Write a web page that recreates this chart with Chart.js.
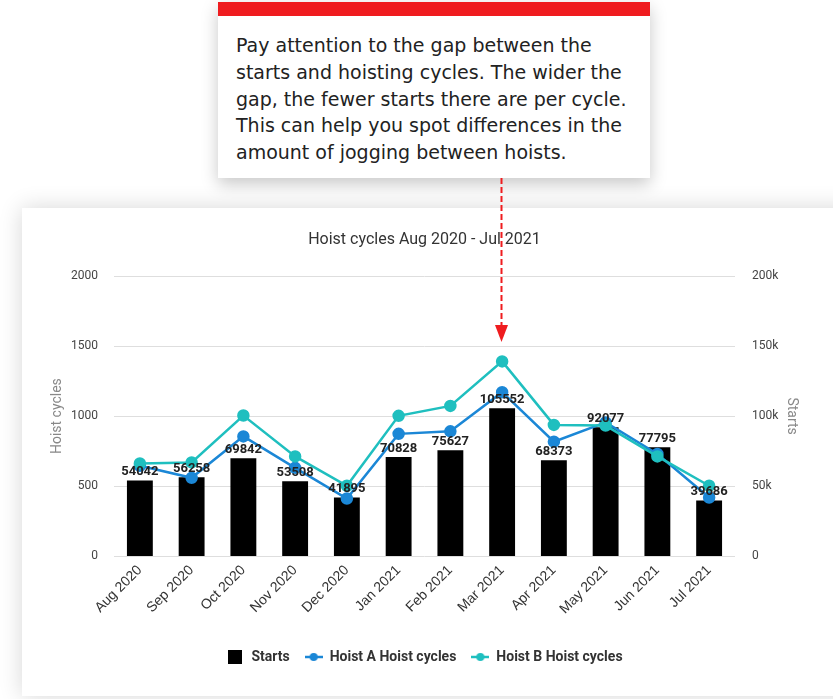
<!DOCTYPE html>
<html>
<head>
<meta charset="utf-8">
<title>Hoist cycles</title>
<script src="https://cdn.jsdelivr.net/npm/chart.js@4.4.1/dist/chart.umd.min.js"></script>
<style>
    html, body {
        margin: 0;
        padding: 0;
        background: #fff;
        width: 833px;
        height: 699px;
        overflow: hidden;
    }
    .panel {
        position: absolute;
        left: 22px;
        top: 208px;
        width: 840px;
        height: 488px;
        background: #fff;
        box-shadow: 0 0 22px rgba(0, 0, 0, 0.16);
    }
    .panel canvas {
        position: absolute;
        left: 0;
        top: 0;
    }
    .note {
        position: absolute;
        left: 218px;
        top: 2px;
        width: 432px;
        height: 162px;
        box-sizing: content-box;
        background: #fff;
        border-top: 14px solid #ef1c1f;
        box-shadow: 0 6px 16px rgba(0, 0, 0, 0.22);
        z-index: 2;
    }
    .note p {
        margin: 0;
        padding: 16px 0 0 18px;
        font-family: "DejaVu Sans", sans-serif;
        font-size: 19px;
        line-height: 26.8px;
        color: #222;
        white-space: nowrap;
    }
    .arrow {
        position: absolute;
        left: 490px;
        top: 178px;
        width: 24px;
        height: 170px;
        z-index: 3;
    }
</style>
</head>
<body>

<div class="panel">
    <canvas id="cycles-chart" width="811" height="488" style="width:811px;height:488px"></canvas>
</div>

<div class="note">
    <p>Pay attention to the gap between the<br>starts and hoisting cycles. The wider the<br>gap, the fewer starts there are per cycle.<br>This can help you spot differences in the<br>amount of jogging between hoists.</p>
</div>

<svg class="arrow" viewBox="0 0 24 170">
    <line x1="11.5" y1="0" x2="11.5" y2="150" stroke="#ef1c1f" stroke-width="2" stroke-dasharray="6 3"/>
    <polygon points="5,147 18,147 11.5,164" fill="#ef1c1f"/>
</svg>

<script>
// Meses e valores
const months = ['Aug 2020', 'Sep 2020', 'Oct 2020', 'Nov 2020', 'Dec 2020', 'Jan 2021',
                'Feb 2021', 'Mar 2021', 'Apr 2021', 'May 2021', 'Jun 2021', 'Jul 2021'];
const starts = [54042, 56258, 69842, 53508, 41895, 70828, 75627, 105552, 68373, 92077, 77795, 39686];
const hoistA = [645, 559, 855, 630, 411, 873, 891, 1171, 817, 955, 729, 418];
const hoistB = [662, 669, 1004, 712, 502, 1002, 1073, 1391, 937, 932, 712, 502];

// Rótulos dos eixos
const cycleTicks = ['0', '500', '1000', '1500', '2000'];
const startTicks = ['0', '50k', '100k', '150k', '200k'];

const BLUE = '#1b87d6';
const TEAL = '#1fbfbf';

// Ícones da legenda
function legendSquare() {
    const c = document.createElement('canvas');
    c.width = 14;
    c.height = 14;
    const ctx = c.getContext('2d');
    ctx.fillStyle = '#000';
    ctx.fillRect(0, 0, 14, 14);
    return c;
}

function legendLine(color) {
    const c = document.createElement('canvas');
    c.width = 18;
    c.height = 10;
    const ctx = c.getContext('2d');
    ctx.strokeStyle = color;
    ctx.lineWidth = 2.5;
    ctx.beginPath();
    ctx.moveTo(0, 5);
    ctx.lineTo(18, 5);
    ctx.stroke();
    ctx.fillStyle = color;
    ctx.beginPath();
    ctx.arc(9, 5, 4, 0, Math.PI * 2);
    ctx.fill();
    return c;
}

const legendIcons = [legendSquare(), legendLine(BLUE), legendLine(TEAL)];

// Valores acima das barras
const barValueLabels = {
    id: 'barValueLabels',
    afterDatasetsDraw(chart) {
        const meta = chart.getDatasetMeta(0);
        const ctx = chart.ctx;
        ctx.save();
        ctx.font = 'bold 13px Roboto, "Liberation Sans", sans-serif';
        ctx.fillStyle = '#222';
        ctx.textAlign = 'center';
        ctx.textBaseline = 'alphabetic';
        meta.data.forEach((bar, i) => {
            ctx.fillText(String(starts[i]), bar.x, bar.y - 5);
        });
        ctx.restore();
    }
};

Chart.defaults.font.family = 'Roboto, "Liberation Sans", sans-serif';
Chart.defaults.color = '#444';

const ctx = document.getElementById('cycles-chart').getContext('2d');

new Chart(ctx, {
    type: 'bar',
    data: {
        labels: months,
        datasets: [
            {
                type: 'bar',
                label: 'Starts',
                data: starts,
                yAxisID: 'yStarts',
                backgroundColor: '#000',
                borderWidth: 0,
                barPercentage: 0.5,
                categoryPercentage: 1,
                order: 3
            },
            {
                type: 'line',
                label: 'Hoist A Hoist cycles',
                data: hoistA,
                yAxisID: 'yCycles',
                borderColor: BLUE,
                backgroundColor: BLUE,
                borderWidth: 2.5,
                pointRadius: 5,
                pointHoverRadius: 5,
                tension: 0,
                order: 2
            },
            {
                type: 'line',
                label: 'Hoist B Hoist cycles',
                data: hoistB,
                yAxisID: 'yCycles',
                borderColor: TEAL,
                backgroundColor: TEAL,
                borderWidth: 2.5,
                pointRadius: 5,
                pointHoverRadius: 5,
                tension: 0,
                order: 1
            }
        ]
    },
    options: {
        responsive: false,
        animation: false,
        layout: {
            padding: { left: 23, right: 29, top: 0, bottom: 22 }
        },
        plugins: {
            title: {
                display: true,
                text: 'Hoist cycles Aug 2020 - Jul 2021',
                color: '#333',
                font: { size: 16, weight: 'normal' },
                padding: { top: 22, bottom: 27 }
            },
            legend: {
                position: 'bottom',
                labels: {
                    usePointStyle: true,
                    pointStyleWidth: 18,
                    boxHeight: 14,
                    padding: 15,
                    color: '#333',
                    font: { size: 14, weight: 'bold' },
                    sort: (a, b) => a.datasetIndex - b.datasetIndex,
                    generateLabels(chart) {
                        const items = Chart.defaults.plugins.legend.labels.generateLabels(chart);
                        return items.map(item => Object.assign(item, {
                            pointStyle: legendIcons[item.datasetIndex],
                            lineWidth: 0
                        }));
                    }
                }
            },
            tooltip: { enabled: false }
        },
        scales: {
            x: {
                grid: { display: false, drawTicks: false },
                border: { display: false },
                ticks: {
                    minRotation: 45,
                    maxRotation: 45,
                    autoSkip: false,
                    padding: 6,
                    color: '#333',
                    font: { size: 14, family: '"Liberation Sans", Arial, sans-serif' }
                },
                afterFit(scale) {
                    scale.height = 79;
                }
            },
            yCycles: {
                position: 'left',
                min: 0,
                max: 2000,
                grid: { color: '#dedede', lineWidth: 1, drawTicks: false },
                border: { display: false },
                ticks: {
                    stepSize: 500,
                    padding: 16,
                    color: '#444',
                    font: { size: 12 },
                    callback: (value, index) => cycleTicks[index]
                },
                title: {
                    display: true,
                    text: 'Hoist cycles',
                    color: '#888',
                    font: { size: 14 }
                },
                afterFit(scale) {
                    scale.width = 69;
                }
            },
            yStarts: {
                position: 'right',
                min: 0,
                max: 200000,
                grid: { display: false, drawTicks: false },
                border: { display: false },
                ticks: {
                    stepSize: 50000,
                    padding: 17,
                    color: '#444',
                    font: { size: 12 },
                    callback: (value, index) => startTicks[index]
                },
                title: {
                    display: true,
                    text: 'Starts',
                    color: '#888',
                    font: { size: 14 }
                },
                afterFit(scale) {
                    scale.width = 69;
                }
            }
        }
    },
    plugins: [barValueLabels]
});
</script>
</body>
</html>
